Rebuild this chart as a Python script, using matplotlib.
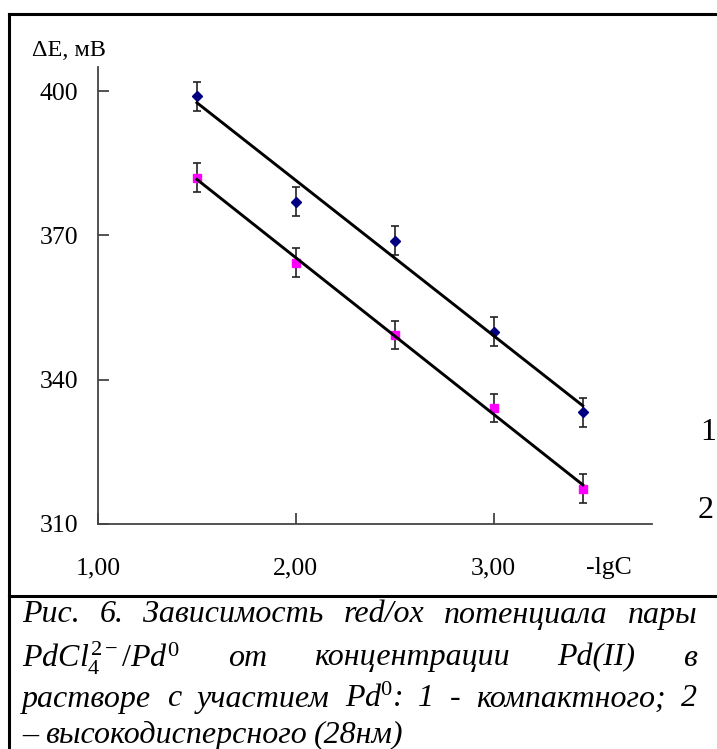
import numpy as np
import matplotlib
matplotlib.use("Agg")
import matplotlib.pyplot as plt
from matplotlib.lines import Line2D

plt.rcParams['font.family'] = ['Liberation Serif', 'DejaVu Serif']
plt.rcParams['mathtext.fontset'] = 'custom'
plt.rcParams['mathtext.rm'] = 'Liberation Serif'
plt.rcParams['mathtext.it'] = 'Liberation Serif:italic'
plt.rcParams['mathtext.bf'] = 'Liberation Serif:bold'

# данные
lgC = [1.5, 2.0, 2.5, 3.0, 3.45]
dE_1 = [398.9, 377.0, 368.9, 350.0, 333.2]   # компактный Pd
dE_2 = [382.0, 364.3, 349.3, 334.1, 317.3]   # высокодисперсный Pd
err = [3, 3, 3, 3, 3]

xticks = [1.0, 2.0, 3.0, 3.58]
xlabels = ['1,00', '2,00', '3,00', '-lgC']
yticks = [310, 340, 370, 400]

W, H = 717, 749
fig = plt.figure(figsize=(W/100, H/100), dpi=100)
ax = fig.add_axes([98/W, 1-524/H, (652-98)/W, (524-67)/H])

series = [(dE_1, '#000080', 'D'), (dE_2, '#FF00FF', 's')]
for y, col, mk in series:
    ax.errorbar(lgC, y, yerr=err, fmt='none', ecolor='#222222', elinewidth=1.2,
                capsize=3, capthick=1.2, zorder=2)
    ax.plot(lgC, y, linestyle='none', marker=mk, color=col, markersize=5.5, zorder=3)
    k, b = np.polyfit(lgC, y, 1)
    xx = np.array([lgC[0], lgC[-1]])
    ax.plot(xx, k*xx + b, color='black', lw=2.1, zorder=4)

ax.set_xlim(1.0, 3.8)
ax.set_ylim(310, 405)
for s in ['top', 'right']:
    ax.spines[s].set_visible(False)
for s in ['left', 'bottom']:
    ax.spines[s].set_color('#444444')
    ax.spines[s].set_linewidth(1.3)

ax.set_yticks(yticks)
ax.set_yticklabels([str(v) for v in yticks])
ax.set_xticks(xticks)
ax.set_xticklabels(xlabels)
ax.xaxis.get_major_ticks()[3].tick1line.set_visible(False)
ax.tick_params(axis='y', direction='in', length=8, width=1.3, color='#444444',
               pad=14, labelsize=18.5)
ax.tick_params(axis='x', direction='in', length=8, width=1.3, color='#444444',
               pad=24, labelsize=18.5)

fig.text(32/W, 1-50/H, 'ΔE, мВ', fontsize=17.5, va='center', ha='left')
fig.text(708/W, 1-432/H, '1', fontsize=23, va='center', ha='center')
fig.text(706/W, 1-510/H, '2', fontsize=23, va='center', ha='center')

# рамка
fig.add_artist(Line2D([9/W, 9/W], [0, 1-14/H], color='black', lw=2.2))
fig.add_artist(Line2D([9/W, 1], [1-14/H, 1-14/H], color='black', lw=2.2))
fig.add_artist(Line2D([9/W, 1], [1-596/H, 1-596/H], color='black', lw=2.2))

# подпись (выравнивание по ширине)
cap_lines = [
    ['Рис.', '6.', 'Зависимость', 'red/ox', 'потенциала', 'пары'],
    [r'$PdCl_{4}^{2-}/Pd^{0}$', 'от', 'концентрации', 'Pd(II)', 'в'],
    ['растворе', 'с', 'участием', r'Pd$^{0}$:', '1', '-', 'компактного;', '2'],
    ['–', 'высокодисперсного', '(28нм)'],
]
cap_y = [615, 658, 699, 735]
x0, x1 = 22, 697
fs = 23
renderer = fig.canvas.get_renderer()
for i, words in enumerate(cap_lines):
    texts = [fig.text(0, 1-cap_y[i]/H, w, fontsize=fs, style='italic', va='center')
             for w in words]
    widths = [t.get_window_extent(renderer).width for t in texts]
    if i < len(cap_lines) - 1:
        gap = (x1 - x0 - sum(widths)) / (len(words) - 1)
    else:
        gap = 7
    x = x0
    for t, w in zip(texts, widths):
        t.set_x(x/W)
        x += w + gap

fig.savefig('out.png', dpi=100)
